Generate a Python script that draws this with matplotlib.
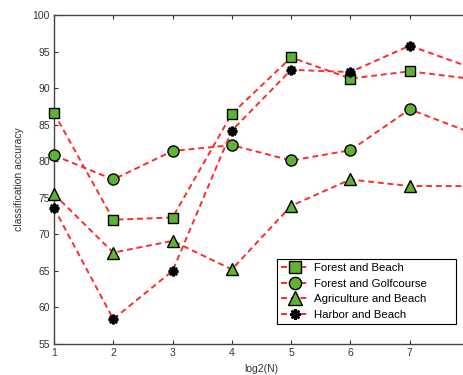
import matplotlib
matplotlib.use('Agg')
import matplotlib.pyplot as plt

# values
logN = [1, 2, 3, 4, 5, 6, 7, 8]
forestBeach = [86.6, 72.0, 72.3, 86.5, 94.2, 91.3, 92.3, 91.3]
forestGolf = [80.8, 77.5, 81.4, 82.2, 80.1, 81.5, 87.1, 84.0]
agriBeach = [75.5, 67.5, 69.1, 65.2, 73.9, 77.5, 76.6, 76.6]
harborBeach = [73.6, 58.4, 65.0, 84.2, 92.5, 92.2, 95.8, 92.9]
labels = ['Forest and Beach', 'Forest and Golfcourse',
          'Agriculture and Beach', 'Harbor and Beach']
xticklabels = ['1', '2', '3', '4', '5', '6', '7', '']

plt.rcParams['font.family'] = ['Liberation Sans', 'DejaVu Sans']

fig = plt.figure(figsize=(4.64, 3.75), dpi=100)
ax = fig.add_axes([54/464., 31/375., 415/464., 329/375.])

red = '#ff2a2a'
green = '#5fb233'
common = dict(color=red, linestyle='--', linewidth=1.4, dashes=(3, 2),
              clip_on=False, zorder=3)
lines = []
lines += ax.plot(logN, forestBeach, marker='s', markersize=7.5,
                 markerfacecolor=green, markeredgecolor='black',
                 markeredgewidth=1.0, **common)
lines += ax.plot(logN, forestGolf, marker='o', markersize=8,
                 markerfacecolor=green, markeredgecolor='black',
                 markeredgewidth=1.0, **common)
lines += ax.plot(logN, agriBeach, marker='^', markersize=9,
                 markerfacecolor=green, markeredgecolor='black',
                 markeredgewidth=1.0, **common)
lines += ax.plot(logN, harborBeach, marker=(8, 2, 0), markersize=7,
                 markerfacecolor='black', markeredgecolor='black',
                 markeredgewidth=1.8, **common)

ax.set_xlim(1, 8)
ax.set_ylim(55, 100)
ax.set_xticks(logN)
ax.set_xticklabels(xticklabels)
ax.set_yticks(range(55, 101, 5))
ax.tick_params(direction='in', top=True, right=True, labelsize=7.5,
               length=3, width=0.8, colors='#333333', pad=3)
for s in ax.spines.values():
    s.set_color('#444444')
    s.set_linewidth(1.0)

ax.set_xlabel('log2(N)', fontsize=7.5, color='#333333', labelpad=4)
ax.set_ylabel('classification accuracy', fontsize=7.5, color='#333333',
              labelpad=6)

leg = ax.legend(lines, labels, loc='lower left', fontsize=8.2,
                bbox_to_anchor=(277/464., (375-324)/375.,
                                (456-277)/464., (324-247)/375.),
                bbox_transform=fig.transFigure, mode='expand',
                fancybox=False, framealpha=1, edgecolor='black',
                handlelength=2.4, borderpad=0.35, labelspacing=0.5,
                handletextpad=0.5, borderaxespad=0, markerscale=1.1)
leg.get_frame().set_linewidth(0.8)
leg.set_zorder(5)

fig.savefig('out.png', dpi=100)
